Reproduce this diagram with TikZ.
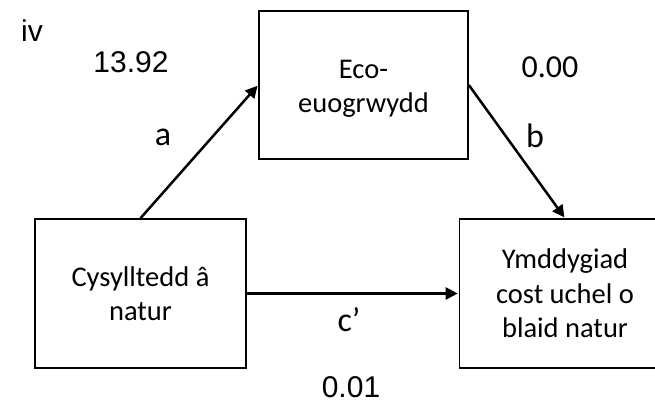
\documentclass[tikz,border=0pt]{standalone}
\usepackage{fontspec}
\setmainfont{Carlito}
\newfontfamily\arialf{Liberation Sans}
\usetikzlibrary{arrows.meta}
\begin{document}
\begin{tikzpicture}[x=1pt,y=-1pt,
  boxnode/.style={draw, line width=1.6pt, rectangle, minimum width=209pt, minimum height=148pt,
    align=center, inner sep=0pt, font=\fontsize{28.5}{34.5}\selectfont},
  arr/.style={line width=2.5pt, -{Triangle[length=12pt,width=12pt]}, shorten >=1pt},
  lbl/.style={inner sep=0pt, font=\fontsize{34}{40}\selectfont},
  num/.style={inner sep=0pt, font=\arialf\fontsize{30}{36}\selectfont}]
\clip (0,0) rectangle (655,403);
\useasboundingbox (0,0) rectangle (655,403);
\node[boxnode] (top) at (363.5,85) {\rule{0pt}{26pt}Eco-\\euogrwydd};
\node[boxnode, minimum width=211pt, minimum height=149pt] (left) at (140.5,293.5) {Cysylltedd â\\natur};
\node[boxnode, minimum width=211pt, minimum height=149pt] (right) at (565,293.5) {Ymddygiad\\cost uchel o\\blaid natur};
\draw[arr] (left.north) -- (top.west);
\draw[arr] (top.east) -- (right.north);
\draw[arr] (left.east) -- (right.west);
\node[num] (iv) at (32,31) {iv};
\node[num] (na) at (131,62) {13.92};
\node[inner sep=0pt, font=\fontsize{32}{38}\selectfont] (nb) at (550,67) {0.00};
\node[num] (nc) at (351,387) {0.01};
\node[lbl] (la) at (163,137) {a};
\node[lbl] (lb) at (535,136) {b};
\node[lbl] (lc) at (349,319.5) {c’};
\end{tikzpicture}
\end{document}
